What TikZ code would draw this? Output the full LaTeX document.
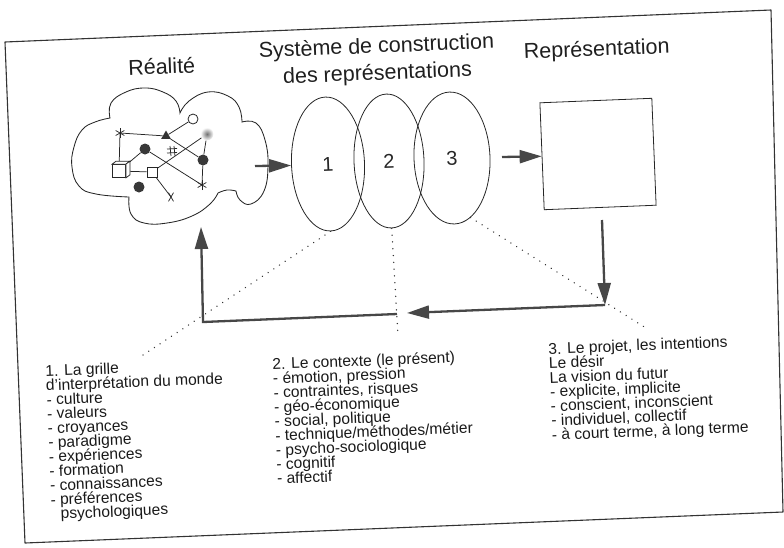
\documentclass[tikz,border=0pt]{standalone}
\usepackage{fontspec}
\setmainfont{Liberation Sans}
\usetikzlibrary{arrows.meta,shapes.geometric}
\begin{document}
\begin{tikzpicture}[x=1pt,y=-1pt,
  frameline/.style={draw=black!80,line width=1.1pt,line join=round},
  flow/.style={draw=black!72,line width=2.3pt,-{Triangle[length=22pt,width=13pt]}},
  dots/.style={draw=black!80,line width=1.5pt,dash pattern=on 0.01pt off 6.8pt,line cap=round},
  title/.style={font=\fontsize{21.5}{27}\selectfont,inner sep=0pt,rotate=2.3,text=black!88,align=center},
  block/.style={font=\fontsize{15.6}{14.3}\selectfont,align=left,inner sep=0pt,anchor=north west,rotate=2.3,text=black!90},
  oval/.style={ellipse,draw=black!85,line width=0.8pt,rotate=2.3,inner sep=0pt,font=\fontsize{20}{20}\selectfont,text=black!85},
  repbox/.style={draw=black!85,line width=0.8pt,rotate=2.3,minimum width=112pt,minimum height=107pt,inner sep=0pt},
  cloudline/.style={draw=black!85,line width=0.85pt},
  net/.style={draw=black!85,line width=0.75pt},
  dotnode/.style={circle,fill=black!78,minimum size=11pt,inner sep=0pt},
  openc/.style={circle,draw=black!85,fill=white,line width=0.8pt,minimum size=10pt,inner sep=0pt},
  grayc/.style={circle,inner color=black!55,outer color=white,minimum size=13pt,inner sep=0pt},
  tri/.style={regular polygon,regular polygon sides=3,fill=black!80,minimum size=11pt,inner sep=0pt},
  sqnode/.style={rectangle,draw=black!85,fill=white,line width=0.75pt,minimum size=10pt,inner sep=0pt},
  cubenode/.style={rectangle,draw=black!85,fill=white,line width=0.75pt,minimum size=13pt,inner sep=0pt}
]
\lineskiplimit=-30pt\relax
\useasboundingbox (0,0) rectangle (784,547);

% frame
\draw[frameline] (5,42) -- (771,10) -- (783,512) -- (25,543) -- cycle;

% titles
\node[title,anchor=base] (tReal) at (162,74) {Réalité};
\node[title,anchor=north] (tSys) at (376,37) {Système de construction\\des représentations};
\node[title,anchor=base] (tRep) at (597,56) {Représentation};

% cloud
\draw[cloudline]
  plot[smooth,tension=0.75] coordinates {(110,118) (111,103) (126,92) (145,88) (163,92) (176,101) (180,113)}
  -- plot[smooth,tension=0.75] coordinates {(180,113) (189,101) (208,92) (228,96) (239,107) (242,122)}
  -- plot[smooth,tension=0.75] coordinates {(242,122) (256,123) (265,140) (268,165) (264,191) (251,204) (240,200) (236,191)}
  -- plot[smooth,tension=0.75] coordinates {(236,191) (227,190) (218,193)}
  -- plot[smooth,tension=0.75] coordinates {(218,193) (210,204) (192,216) (167,223) (144,223) (131,214) (129,197)}
  -- plot[smooth,tension=0.75] coordinates {(129,197) (96,194) (79,186) (72,167) (74,147) (82,130) (95,122) (110,118)}
  -- cycle;

% network inside the cloud
\coordinate (nA) at (120,133);
\node[tri] (nT) at (166,136) {};
\node[openc] (nO) at (193,119) {};
\node[grayc] (nG) at (207,134) {};
\node[dotnode] (nB) at (145,149) {};
\coordinate (nH) at (172,151);
\node[dotnode] (nC) at (203,160) {};
\node[cubenode] (nK) at (119,171) {};
\node[sqnode] (nS) at (152,172) {};
\node[dotnode] (nD) at (139,187) {};
\coordinate (nE) at (202,185);
\coordinate (nX) at (171,197);

\draw[net] (nA) -- (nT);
\draw[net] (nA) -- (nK);
\draw[net] (nT) -- (nO);
\draw[net] (nT) -- (nC);
\draw[net] (nG) -- (nC);
\draw[net] (nG) -- (nS);
\draw[net] (nB) -- (nK);
\draw[net] (nB) -- (nE);
\draw[net] (nC) -- (nE);
\draw[net] (nK) -- (nS);
\draw[net] (nS) -- (nX);

% cube depth faces
\draw[net,fill=white] (nK.north west) -- ([shift={(4,-3)}]nK.north west) -- ([shift={(4,-3)}]nK.north east) -- (nK.north east) -- cycle;
\draw[net,fill=white] (nK.north east) -- ([shift={(4,-3)}]nK.north east) -- ([shift={(4,-3)}]nK.south east) -- (nK.south east) -- cycle;

% asterisks, hash and cross
\foreach \a in {90,30,150} {
  \draw[net] ([shift={(\a:5)}]nA) -- ([shift={(\a+180:5)}]nA);
  \draw[net] ([shift={(\a:5)}]nE) -- ([shift={(\a+180:5)}]nE);
}
\draw[net] ([shift={(-2,-5)}]nH) -- ([shift={(-1,5)}]nH);
\draw[net] ([shift={(2,-5)}]nH) -- ([shift={(3,5)}]nH);
\draw[net] ([shift={(-5,-2)}]nH) -- ([shift={(5,-2.5)}]nH);
\draw[net] ([shift={(-5,2)}]nH) -- ([shift={(5,1.5)}]nH);
\foreach \a in {60,120} {
  \draw[net] ([shift={(\a:5)}]nX) -- ([shift={(\a+180:5)}]nX);
}

% system ellipses
\node[oval,minimum width=73pt,minimum height=134pt] (e1) at (328,164) {1};
\node[oval,minimum width=70pt,minimum height=134pt] (e2) at (389,161) {2};
\node[oval,minimum width=76pt,minimum height=132pt] (e3) at (452,158) {3};

% representation box
\node[repbox] (rep) at (598,154) {};

% flow arrows
\coordinate (cOut) at (255,166);
\coordinate (cIn) at (201,227);
\coordinate (R) at (605,305);
\coordinate (M1) at (407,313);
\coordinate (M2) at (397,314);
\coordinate (L) at (203,322);
\coordinate (e3out) at (502,157);
\coordinate (repout) at (602,220);

\draw[flow] (cOut) -- (e1.west);
\draw[flow] (e3out) -- (rep.west);
\draw[flow] (repout) -- (R);
\draw[flow] (R) -- (M1);
\draw[flow] (M2) -- (L) -- (cIn);

% dotted leaders
\coordinate (d1) at (143,355);
\coordinate (d2) at (398,336);
\coordinate (d3) at (646,328);
\draw[dots] (e1.south) -- (d1);
\draw[dots] (e2.south) -- (d2);
\draw[dots] (e3.-75) -- (d3);

% text blocks
\node[block] (b1) at (45,365) {1. La grille\\d'interprétation du monde\\- culture\\- valeurs\\- croyances\\- paradigme\\- expériences\\- formation\\- connaissances\\- préférences\\\hspace*{0.611em}psychologiques};
\node[block] (b2) at (272,358) {2. Le contexte (le présent)\\- émotion, pression\\- contraintes, risques\\- géo-économique\\- social, politique\\- technique/méthodes/métier\\- psycho-sociologique\\- cognitif\\- affectif};
\node[block] (b3) at (548,343) {3. Le projet, les intentions\\Le désir\\La vision du futur\\- explicite, implicite\\- conscient, inconscient\\- individuel, collectif\\- à court terme, à long terme};
\end{tikzpicture}
\end{document}
